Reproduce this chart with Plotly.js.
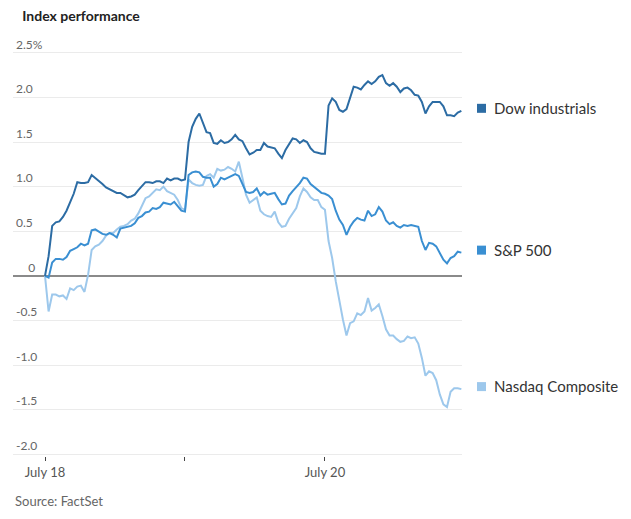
<!DOCTYPE html>
<html>
<head>
<meta charset="utf-8">
<script src="https://cdn.plot.ly/plotly-3.0.1.min.js"></script>
<style>html,body{margin:0;padding:0;background:#fff;}#chart{width:631px;height:519px;}</style>
</head>
<body>
<div id="chart"></div>
<script>
// Sessions shown on the time axis (10-minute samples per trading session)
const sessions = ['July 18', 'July 19', 'July 20'];
const tickText = ['July 18', '', 'July 20'];
const samplesPerSession = 39;

// Percent change since the July 17 close
const dow = [
  0, 0.22, 0.56, 0.6, 0.61, 0.66, 0.73, 0.83, 0.92, 1.05,
  1.04, 1.04, 1.05, 1.13, 1.1, 1.06, 1.03, 0.99, 0.97, 0.95,
  0.93, 0.93, 0.9, 0.88, 0.89, 0.91, 0.96, 1.01, 1.05, 1.05,
  1.04, 1.06, 1.06, 1.04, 1.09, 1.07, 1.09, 1.09, 1.07, 1.08,
  1.5, 1.67, 1.76, 1.82, 1.72, 1.61, 1.6, 1.49, 1.48, 1.52,
  1.49, 1.5, 1.53, 1.58, 1.53, 1.51, 1.43, 1.36, 1.38, 1.41,
  1.41, 1.49, 1.45, 1.44, 1.43, 1.37, 1.32, 1.41, 1.48, 1.54,
  1.53, 1.49, 1.52, 1.5, 1.43, 1.39, 1.38, 1.37, 1.37,
  1.91, 1.99, 1.95, 1.86, 1.84, 1.87, 2.01, 2.12, 2.11, 2.09,
  2.14, 2.18, 2.15, 2.18, 2.23, 2.25, 2.16, 2.13, 2.16, 2.12,
  2.06, 2.1, 2.11, 2.08, 2.03, 2.02, 1.95, 1.82, 1.9, 1.95,
  1.95, 1.95, 1.9, 1.8, 1.8, 1.79, 1.83, 1.85
];
const sp500 = [
  0, -0.02, 0.15, 0.19, 0.19, 0.18, 0.21, 0.28, 0.3, 0.32,
  0.36, 0.34, 0.36, 0.51, 0.52, 0.49, 0.47, 0.46, 0.48, 0.46,
  0.43, 0.53, 0.54, 0.55, 0.56, 0.59, 0.65, 0.67, 0.71, 0.72,
  0.76, 0.75, 0.77, 0.82, 0.81, 0.8, 0.83, 0.78, 0.73, 0.72,
  1.13, 1.16, 1.17, 1.16, 1.11, 1.1, 1.1, 1.0, 1.03, 1.1,
  1.08, 1.1, 1.12, 1.14, 1.12, 1.02, 0.94, 0.93, 0.94, 0.98,
  0.9, 0.94, 0.91, 0.92, 0.93, 0.86, 0.8, 0.81, 0.9, 0.95,
  0.99, 1.04, 1.1, 1.09, 1.03, 1.0, 0.96, 0.93, 0.92,
  0.9, 0.86, 0.73, 0.63, 0.57, 0.46, 0.55, 0.61, 0.65, 0.63,
  0.62, 0.73, 0.67, 0.69, 0.77, 0.72, 0.62, 0.58, 0.6, 0.56,
  0.54, 0.57, 0.56, 0.57, 0.56, 0.55, 0.39, 0.29, 0.37, 0.36,
  0.33, 0.25, 0.18, 0.14, 0.2, 0.22, 0.27, 0.26
];
const nasdaq = [
  0, -0.4, -0.21, -0.21, -0.23, -0.22, -0.26, -0.14, -0.16, -0.12,
  -0.11, -0.18, 0.01, 0.29, 0.33, 0.35, 0.39, 0.45, 0.48, 0.48,
  0.52, 0.55, 0.56, 0.58, 0.62, 0.64, 0.7, 0.78, 0.87, 0.89,
  0.93, 0.97, 0.96, 1.0, 0.95, 0.93, 0.91, 0.85, 0.76, 0.74,
  1.08, 1.04, 1.02, 1.01, 1.02, 1.12, 1.14, 1.1, 1.2, 1.18,
  1.19, 1.22, 1.2, 1.17, 1.28, 1.1, 0.91, 0.82, 0.85, 0.88,
  0.73, 0.69, 0.67, 0.66, 0.72, 0.6, 0.55, 0.56, 0.64, 0.7,
  0.76, 0.89, 0.98, 0.94, 0.88, 0.85, 0.85, 0.77, 0.74,
  0.39, 0.2, -0.06, -0.29, -0.49, -0.67, -0.53, -0.51, -0.42, -0.44,
  -0.4, -0.25, -0.39, -0.36, -0.32, -0.45, -0.6, -0.67, -0.67, -0.71,
  -0.74, -0.73, -0.68, -0.7, -0.69, -0.76, -0.92, -1.12, -1.07, -1.09,
  -1.17, -1.33, -1.44, -1.47, -1.3, -1.26, -1.26, -1.27
];

const seriesNames = ['Dow industrials', 'S&P 500', 'Nasdaq Composite'];
const seriesColors = ['#2c6ca4', '#3a8fd2', '#9dc8ec'];

const yTickVals = [2.5, 2.0, 1.5, 1.0, 0.5, 0, -0.5, -1.0, -1.5, -2.0];
const yTickText = ['2.5%', '2.0', '1.5', '1.0', '0.5', '\u00a0\u00a0\u00a0\u00a00', '-0.5', '-1.0', '-1.5', '-2.0'];

// time axis in session units: first session from its open, later sessions after their open
const x = [];
for (let i = 0; i <= samplesPerSession; i++) x.push(i / samplesPerSession);
for (let i = 1; i <= samplesPerSession; i++) x.push(1 + i / samplesPerSession);
for (let i = 1; i < dow.length - 2 * samplesPerSession; i++) x.push(2 + i / samplesPerSession);

const data = [nasdaq, sp500, dow];
const order = [2, 1, 0];
const traces = order.map((idx, j) => ({
  x: x.slice(0, data[j].length),
  y: data[j],
  type: 'scatter',
  mode: 'lines',
  name: seriesNames[idx],
  line: {color: seriesColors[idx], width: 2},
  hoverinfo: 'skip'
}));

const lastVals = [dow[dow.length - 1], sp500[sp500.length - 1], nasdaq[nasdaq.length - 1]];

const keyLeft = (477 - 13) / 449;
const shapes = lastVals.map((v, i) => ({
  type: 'rect',
  xref: 'paper', xsizemode: 'pixel', xanchor: keyLeft, x0: 0, x1: 9,
  yref: 'y', ysizemode: 'pixel', yanchor: v, y0: -2, y1: 7,
  fillcolor: seriesColors[i], line: {width: 0}
}));

const annotations = seriesNames.map((n, i) => ({
  text: n,
  xref: 'paper', yref: 'y',
  x: (492 - 13) / 449, y: lastVals[i],
  xanchor: 'left', yanchor: 'middle',
  yshift: 3,
  showarrow: false,
  font: {family: 'Lato', size: 15, color: '#333'}
}));
annotations.push({
  text: 'Source: FactSet',
  xref: 'paper', yref: 'paper',
  x: 0, y: -0.107,
  xanchor: 'left', yanchor: 'middle',
  showarrow: false,
  font: {family: 'Lato', size: 13, color: '#666'}
});

const layout = {
  width: 631, height: 519,
  margin: {l: 13, r: 169, t: 35, b: 63},
  paper_bgcolor: '#fff', plot_bgcolor: '#fff',
  showlegend: false,
  hovermode: false,
  title: {
    text: '<b>Index performance</b>',
    x: 13 / 631, xanchor: 'left', xref: 'paper',
    y: 1 - 16 / 519, yanchor: 'middle',
    font: {family: 'Lato', size: 14, color: '#222'}
  },
  xaxis: {
    range: [-0.2286, 2.979],
    tickvals: [0, 1, 2],
    ticktext: tickText,
    showgrid: false, zeroline: false, showline: false,
    ticks: 'outside', ticklen: 4, tickcolor: '#444', tickwidth: 1,
    tickfont: {family: 'Lato', size: 13, color: '#555'},
    fixedrange: true
  },
  yaxis: {
    range: [-2.02, 2.7],
    tickvals: yTickVals,
    ticktext: yTickText,
    ticklabelposition: 'inside top',
    showgrid: true, gridcolor: '#ebebeb', gridwidth: 1,
    zeroline: true, zerolinecolor: '#8a8a8a', zerolinewidth: 2,
    showline: false, ticks: '',
    tickfont: {family: 'Lato', size: 12, color: '#666'},
    fixedrange: true
  },
  shapes: shapes,
  annotations: annotations
};

Plotly.newPlot('chart', traces, layout, {displayModeBar: false, staticPlot: true});
</script>
</body>
</html>
